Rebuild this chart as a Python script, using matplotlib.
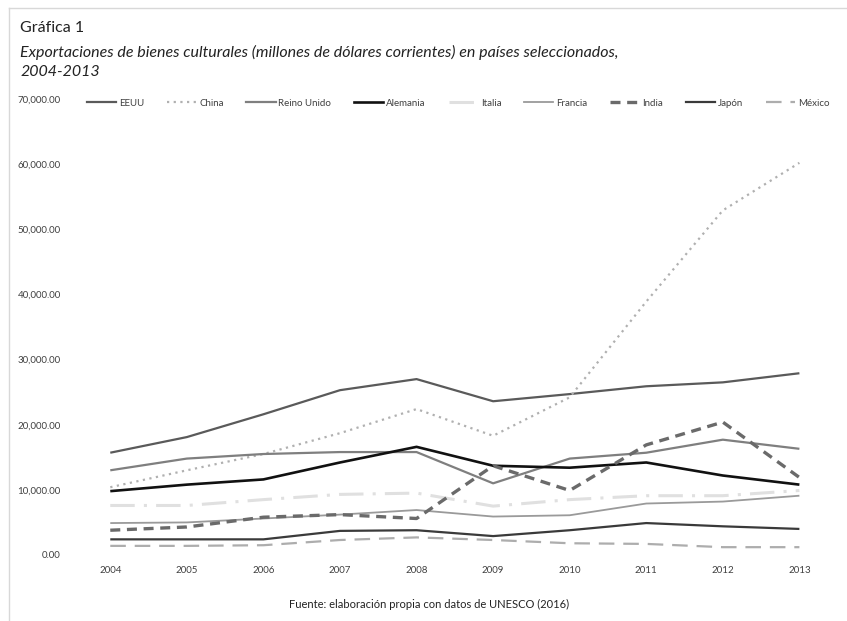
import matplotlib
matplotlib.use('Agg')
from matplotlib import pyplot as plt
from matplotlib.ticker import FuncFormatter, MultipleLocator
from matplotlib.lines import Line2D

plt.rcParams['font.family'] = ['Lato', 'DejaVu Sans']

years = [2004, 2005, 2006, 2007, 2008, 2009, 2010, 2011, 2012, 2013]

eeuu     = [15700, 18100, 21600, 25300, 27000, 23600, 24700, 25900, 26500, 27900]
china    = [10400, 13000, 15500, 18700, 22400, 18300, 24200, 38900, 52900, 60200]
reino    = [13000, 14800, 15500, 15800, 15800, 11000, 14800, 15700, 17700, 16300]
alemania = [ 9800, 10800, 11600, 14200, 16600, 13700, 13400, 14200, 12200, 10800]
italia   = [ 7600,  7600,  8500,  9300,  9500,  7500,  8500,  9100,  9100,  9900]
francia  = [ 4900,  5000,  5600,  6200,  6900,  5900,  6100,  7900,  8200,  9100]
india    = [ 3800,  4300,  5800,  6200,  5600, 13700,  9900, 16900, 20400, 11900]
japon    = [ 2400,  2400,  2400,  3700,  3800,  2900,  3800,  4900,  4400,  4000]
mexico   = [ 1400,  1400,  1500,  2300,  2700,  2300,  1800,  1700,  1200,  1200]

series = [
    ('EEUU',        eeuu,     dict(color='#5a5a5a', lw=1.6, ls='-')),
    ('China',       china,    dict(color='#b0b0b0', lw=1.6, ls=(0, (1, 2)))),
    ('Reino Unido', reino,    dict(color='#7f7f7f', lw=1.6, ls='-')),
    ('Alemania',    alemania, dict(color='#111111', lw=1.9, ls='-')),
    ('Italia',      italia,   dict(color='#e0e0e0', lw=2.2, ls=(0, (8, 3, 1, 3)))),
    ('Francia',     francia,  dict(color='#9a9a9a', lw=1.3, ls='-')),
    ('India',       india,    dict(color='#6a6a6a', lw=2.4, ls=(0, (3, 2)))),
    ('Japón',       japon,    dict(color='#3a3a3a', lw=1.6, ls='-')),
    ('México',      mexico,   dict(color='#adadad', lw=1.6, ls=(0, (7, 4)))),
]

fig = plt.figure(figsize=(8.47, 6.21), dpi=100)
ax = fig.add_axes([0.085, 0.1063, 0.904, 0.7343])

handles = []
for name, vals, style in series:
    ax.plot(years, vals, solid_capstyle='butt', dash_capstyle='butt', **style)
    handles.append(Line2D([], [], label=name, **style))

ax.set_xlim(2003.5, 2013.5)
ax.set_ylim(0, 70000)
ax.yaxis.set_major_locator(MultipleLocator(10000))
ax.yaxis.set_major_formatter(FuncFormatter(lambda v, p: '{:,.2f}'.format(v)))
ax.set_xticks(years)
for s in ax.spines.values():
    s.set_visible(False)
ax.tick_params(length=0, labelsize=7, colors='#404040')
ax.tick_params(axis='x', pad=8)
ax.tick_params(axis='y', pad=8)

fig.legend(handles=handles, loc='center', bbox_to_anchor=(0.541, 0.834), ncol=9,
           frameon=False, fontsize=7, handlelength=3.0, columnspacing=2.35,
           handletextpad=0.3, labelcolor='#404040')

fig.text(0.024, 0.955, 'Gráfica 1', fontsize=11.5, color='#222222', va='center')
fig.text(0.024, 0.915, 'Exportaciones de bienes culturales (millones de dólares corrientes) en países seleccionados,',
         fontsize=11.5, style='italic', color='#222222', va='center')
fig.text(0.024, 0.884, '2004-2013', fontsize=11.5, style='italic', color='#222222', va='center')
fig.text(0.507, 0.027, 'Fuente: elaboración propia con datos de UNESCO (2016)', fontsize=8,
         color='#222222', ha='center', va='center')

# faint outer frame, top and left only
fig.add_artist(Line2D([0.011, 1.0], [0.987, 0.987], color='#d8d8d8', lw=1))
fig.add_artist(Line2D([0.011, 0.011], [0.0, 0.987], color='#d8d8d8', lw=1))

fig.savefig('out.png', dpi=100)
